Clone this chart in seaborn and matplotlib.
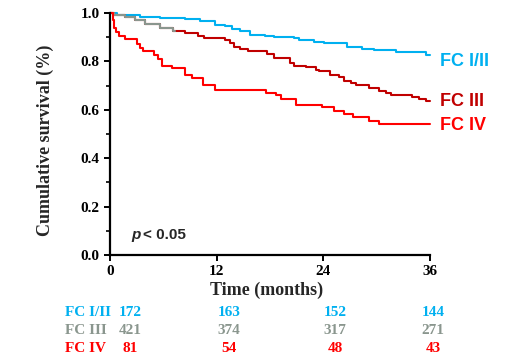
import numpy as np
import pandas as pd
import matplotlib
matplotlib.use('Agg')
from matplotlib import pyplot as plt
from matplotlib.ticker import MultipleLocator, FormatStrFormatter
import seaborn as sns

# Kaplan-Meier curves (months, survival)
t_fc12 = [0, 0.8, 3.4, 5.6, 8.4, 10.1, 11.8, 12.9, 13.7, 14.6, 15.7, 17.4, 18.5,
          20.7, 21.3, 23.0, 24.1, 26.7, 28.3, 29.7, 32.2, 35.5, 36]
s_fc12 = [1.0, 0.99, 0.985, 0.98, 0.974, 0.965, 0.952, 0.945, 0.935, 0.925, 0.911,
          0.905, 0.901, 0.895, 0.887, 0.88, 0.876, 0.858, 0.853, 0.846, 0.839, 0.825, 0.825]

t_fc3 = [0, 0.5, 1.7, 2.8, 3.9, 5.6, 7.1, 8.4, 9.9, 10.6, 12.9, 13.5, 14.0, 14.6,
         15.5, 17.7, 18.5, 20.2, 20.7, 22.1, 23.2, 23.5, 24.7, 25.8, 26.3, 27.1,
         27.7, 29.1, 30.3, 31.0, 31.6, 34.0, 34.8, 35.6, 36]
s_fc3 = [1.0, 0.99, 0.984, 0.973, 0.954, 0.938, 0.925, 0.918, 0.907, 0.897, 0.89,
         0.877, 0.858, 0.853, 0.845, 0.831, 0.812, 0.794, 0.78, 0.776, 0.766, 0.762,
         0.745, 0.734, 0.72, 0.711, 0.701, 0.69, 0.679, 0.669, 0.662, 0.651, 0.644,
         0.638, 0.638]

t_fc4 = [0, 0.3, 0.5, 0.7, 1.0, 1.7, 3.0, 3.4, 3.7, 4.9, 5.4, 5.8, 7.0, 8.4, 9.2,
         10.5, 11.8, 17.6, 18.7, 19.2, 20.9, 23.9, 25.2, 26.3, 27.3, 29.1, 30.3, 36]
s_fc4 = [1.0, 0.97, 0.94, 0.92, 0.905, 0.894, 0.87, 0.855, 0.842, 0.828, 0.81, 0.78,
         0.773, 0.745, 0.73, 0.704, 0.683, 0.669, 0.66, 0.646, 0.621, 0.61, 0.596,
         0.582, 0.569, 0.555, 0.542, 0.542]

# number at risk
risk_groups = ['FC I/II', 'FC III', 'FC IV']
risk_fc12 = [172, 163, 152, 144]
risk_fc3 = [421, 374, 317, 271]
risk_fc4 = [81, 54, 48, 43]

blue = '#00B0F0'
darkred = '#C00000'
red = '#FF0000'
grey = '#8A968E'

sns.set_style('ticks')
serif = ['Liberation Serif', 'DejaVu Serif']
sans = ['Liberation Sans', 'DejaVu Sans']
plt.rcParams['font.family'] = serif

W, H = 509, 360
fig = plt.figure(figsize=(W / 100, H / 100), dpi=100)
ax = fig.add_axes([110 / W, 1 - 255 / H, 320 / W, 242 / H])

def px(x, y):
    return x / W, 1 - y / H

kw = dict(estimator=None, drawstyle='steps-post', linewidth=1.5, clip_on=False, legend=False)

fc12 = pd.DataFrame({'t': t_fc12, 's': s_fc12})
fc3 = pd.DataFrame({'t': t_fc3, 's': s_fc3})
fc4 = pd.DataFrame({'t': t_fc4, 's': s_fc4})

sns.lineplot(data=fc12, x='t', y='s', color=blue, ax=ax, **kw)
sns.lineplot(data=fc3, x='t', y='s', color=darkred, ax=ax, **kw)
# first part of the FC III curve is drawn grey in the original
split = 7.3
head = fc3[fc3['t'] < split]
head = pd.concat([head, pd.DataFrame({'t': [split], 's': [head['s'].iloc[-1]]})])
sns.lineplot(data=head, x='t', y='s', color=grey, ax=ax, **kw)
sns.lineplot(data=fc4, x='t', y='s', color=red, ax=ax, **kw)

ax.set_xlim(0, 36)
ax.set_ylim(0, 1.0)
ax.set_xticks([0, 12, 24, 36])
ax.yaxis.set_major_locator(MultipleLocator(0.2))
ax.yaxis.set_minor_locator(MultipleLocator(0.1))
ax.yaxis.set_major_formatter(FormatStrFormatter('%.1f'))
ax.set_xlabel('')
ax.set_ylabel('')
sns.despine(ax=ax)
for sp in ['left', 'bottom']:
    ax.spines[sp].set_linewidth(1.6)
    ax.spines[sp].set_color('black')
ax.tick_params(which='major', direction='out', length=4.5, width=1.4, color='black', pad=3,
               labelsize=11, labelcolor='black')
ax.tick_params(which='minor', direction='out', length=3, width=1.2, color='black')
for lab in ax.get_xticklabels() + ax.get_yticklabels():
    lab.set_fontweight('bold')

fig.text(*px(45, 140), 'Cumulative survival (%)', rotation=90, ha='center', va='center',
         fontsize=13, fontweight='bold')
fig.text(*px(267, 290), 'Time (months)', ha='center', va='center',
         fontsize=13, fontweight='bold')

# curve labels
fig.text(*px(440, 61), 'FC I/II', color=blue, ha='left', va='center',
         fontsize=13, fontweight='bold', family=sans)
fig.text(*px(440, 102), 'FC III', color=darkred, ha='left', va='center',
         fontsize=13, fontweight='bold', family=sans)
fig.text(*px(440, 125), 'FC IV', color=red, ha='left', va='center',
         fontsize=13, fontweight='bold', family=sans)

fig.text(*px(131, 235), 'p', ha='left', va='center', fontsize=11, fontweight='bold',
         fontstyle='italic', family=sans)
fig.text(*px(143, 235), '< 0.05', ha='left', va='center', fontsize=11,
         fontweight='bold', family=sans)

# number at risk table
col_x = [130, 229, 335, 433]
row_y = [313, 331, 349]
row_colors = [blue, grey, red]
for lab, counts, y, c in zip(risk_groups, [risk_fc12, risk_fc3, risk_fc4], row_y, row_colors):
    fig.text(*px(65, y), lab, color=c, ha='left', va='center', fontsize=11, fontweight='bold')
    for x, n in zip(col_x, counts):
        fig.text(*px(x, y), str(n), color=c, ha='center', va='center',
                 fontsize=11, fontweight='bold')

fig.savefig('out.png', dpi=100)
